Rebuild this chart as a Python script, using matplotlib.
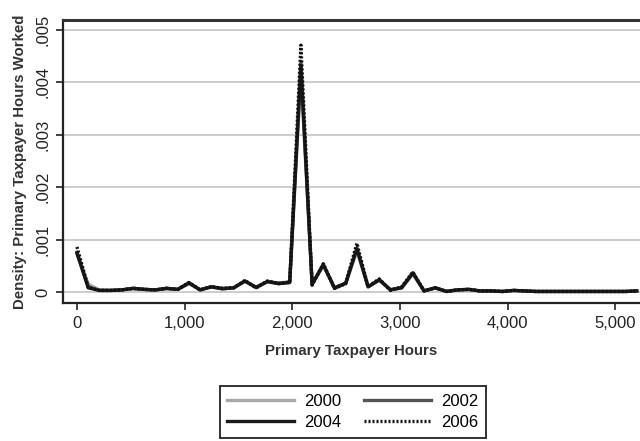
import numpy as np
import matplotlib
matplotlib.use('Agg')
import matplotlib.pyplot as plt
from matplotlib.ticker import FuncFormatter

plt.rcParams['font.family'] = ['Liberation Sans', 'DejaVu Sans']

# hours bins (2 hrs/week * 52 weeks)
hours = np.arange(0, 5201, 104)

dens_2004 = [0.00074, 0.00008, 0.00003, 0.00003, 0.00004, 0.00007, 0.00005, 0.00004, 0.00007, 0.00005,
             0.00017, 0.00004, 0.00010, 0.00006, 0.00008, 0.00021, 0.00009, 0.00020, 0.00016, 0.00018,
             0.00430, 0.00015, 0.00052, 0.00008, 0.00017, 0.00082, 0.00010, 0.00023, 0.00004, 0.00008,
             0.00036, 0.00002, 0.00008, 0.00001, 0.00004, 0.00005, 0.00002, 0.00002, 0.00001, 0.00003,
             0.00002, 0.00001, 0.00001, 0.00001, 0.00001, 0.00001, 0.00001, 0.00001, 0.00001, 0.00001,
             0.00002]
dens_2000 = [0.00072, 0.00015, 0.00004, 0.00003, 0.00004, 0.00006, 0.00005, 0.00004, 0.00006, 0.00005,
             0.00016, 0.00005, 0.00009, 0.00006, 0.00008, 0.00020, 0.00009, 0.00019, 0.00016, 0.00018,
             0.00415, 0.00016, 0.00050, 0.00008, 0.00016, 0.00078, 0.00010, 0.00022, 0.00005, 0.00007,
             0.00034, 0.00003, 0.00007, 0.00002, 0.00004, 0.00005, 0.00002, 0.00002, 0.00001, 0.00003,
             0.00002, 0.00001, 0.00001, 0.00001, 0.00001, 0.00001, 0.00001, 0.00001, 0.00001, 0.00001,
             0.00002]
dens_2002 = [0.00076, 0.00010, 0.00003, 0.00003, 0.00004, 0.00007, 0.00005, 0.00004, 0.00007, 0.00005,
             0.00018, 0.00004, 0.00010, 0.00007, 0.00008, 0.00021, 0.00008, 0.00020, 0.00017, 0.00019,
             0.00440, 0.00014, 0.00053, 0.00007, 0.00016, 0.00084, 0.00010, 0.00024, 0.00004, 0.00009,
             0.00037, 0.00002, 0.00008, 0.00001, 0.00004, 0.00005, 0.00002, 0.00002, 0.00001, 0.00003,
             0.00002, 0.00001, 0.00001, 0.00001, 0.00001, 0.00001, 0.00001, 0.00001, 0.00001, 0.00001,
             0.00002]
dens_2006 = [0.00086, 0.00009, 0.00003, 0.00003, 0.00004, 0.00007, 0.00005, 0.00004, 0.00007, 0.00005,
             0.00018, 0.00004, 0.00010, 0.00007, 0.00008, 0.00022, 0.00008, 0.00021, 0.00016, 0.00019,
             0.00471, 0.00013, 0.00054, 0.00007, 0.00016, 0.00093, 0.00010, 0.00025, 0.00003, 0.00010,
             0.00038, 0.00002, 0.00008, 0.00001, 0.00004, 0.00005, 0.00002, 0.00002, 0.00001, 0.00003,
             0.00002, 0.00001, 0.00001, 0.00001, 0.00001, 0.00001, 0.00001, 0.00001, 0.00001, 0.00001,
             0.00002]

fig = plt.figure(figsize=(6.4, 4.41), dpi=100)
ax = fig.add_axes([63/640, 1 - 303/441, 577/640, 283/441])

l00, = ax.plot(hours, dens_2000, color='#a8a8a8', lw=2.4, label='2000')
l02, = ax.plot(hours, dens_2002, color='#555555', lw=2.4, label='2002')
l04, = ax.plot(hours, dens_2004, color='#1a1a1a', lw=2.4, label='2004')
l06, = ax.plot(hours, dens_2006, color='#111111', lw=2.4, ls=(0, (0.6, 0.6)), label='2006')

ax.set_xlim(-130, 5230)
ax.set_ylim(-0.00021, 0.00519)
ax.set_xticks([0, 1000, 2000, 3000, 4000, 5000])
ax.set_yticks([0, 0.001, 0.002, 0.003, 0.004, 0.005])
ax.xaxis.set_major_formatter(FuncFormatter(lambda v, p: f'{int(v):,}'))
ax.yaxis.set_major_formatter(FuncFormatter(lambda v, p: '0' if v == 0 else f'{v:.3f}'.lstrip('0')))
for lab in ax.get_yticklabels():
    lab.set_rotation(90)
    lab.set_va('center')
ax.tick_params(axis='both', direction='out', length=5, width=1.2, labelsize=12, colors='#222222', pad=4)
ax.grid(axis='y', color='#c8c8c8', lw=1.3)
ax.set_axisbelow(True)

for side in ['left', 'bottom']:
    ax.spines[side].set_linewidth(1.6)
    ax.spines[side].set_color('#222222')
ax.spines['top'].set_linewidth(2.2)
ax.spines['top'].set_color('#333333')
ax.spines['right'].set_visible(False)

ax.set_xlabel('Primary Taxpayer Hours', fontsize=10.8, fontweight='bold', color='#333333', labelpad=10)
ax.set_ylabel('Density: Primary Taxpayer Hours Worked', fontsize=10.8, fontweight='bold', color='#333333', labelpad=6)

# row-wise order: 2000 2002 / 2004 2006
leg = fig.legend([l00, l04, l02, l06], ['2000', '2004', '2002', '2006'],
                 loc='center', bbox_to_anchor=(0.551, 0.066), ncol=2, fontsize=12,
                 handlelength=4.0, columnspacing=1.4, handletextpad=0.6, labelspacing=0.4,
                 fancybox=False, framealpha=1, borderpad=0.45)
leg.get_frame().set_edgecolor('#222222')
leg.get_frame().set_linewidth(1.3)

fig.savefig('out.png', dpi=100)
